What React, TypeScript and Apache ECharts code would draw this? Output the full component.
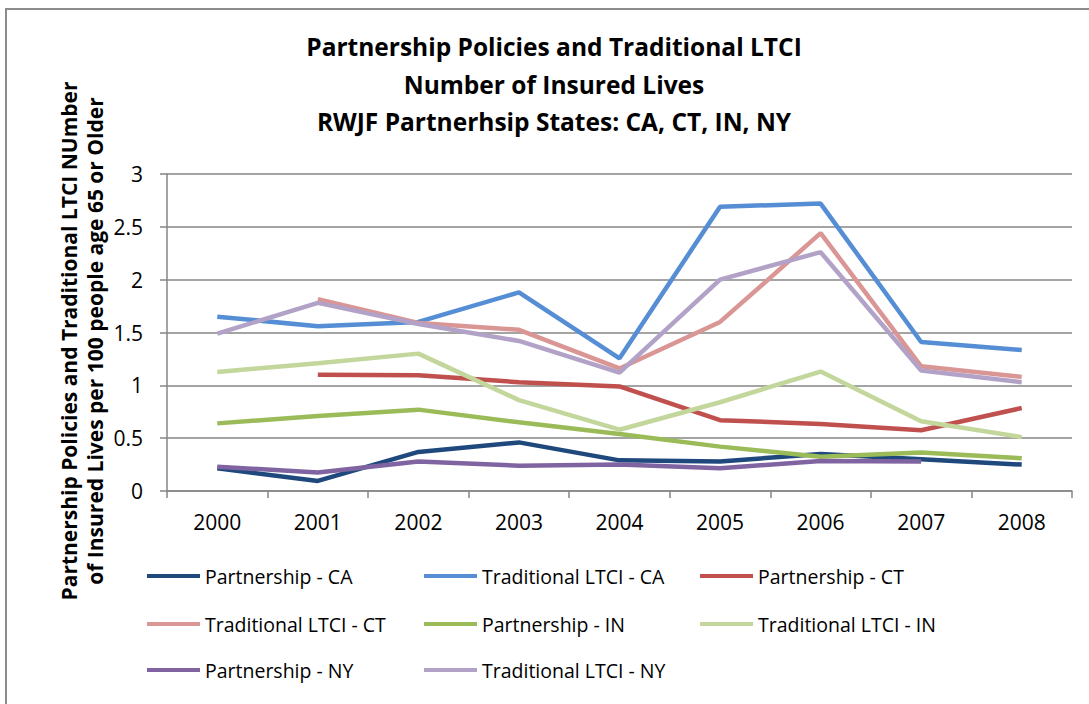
import React, { useEffect, useRef } from "react";
import * as echarts from "echarts";

const years = ["2000", "2001", "2002", "2003", "2004", "2005", "2006", "2007", "2008"];
const partnershipCA = [0.215, 0.095, 0.37, 0.46, 0.29, 0.28, 0.35, 0.3, 0.25];
const traditionalCA = [1.65, 1.56, 1.6, 1.88, 1.256, 2.69, 2.72, 1.41, 1.335];
const partnershipCT = [null, 1.1, 1.095, 1.03, 0.99, 0.67, 0.635, 0.575, 0.785];
const traditionalCT = [null, 1.815, 1.59, 1.525, 1.16, 1.6, 2.44, 1.18, 1.08];
const partnershipIN = [0.64, 0.71, 0.77, 0.65, 0.54, 0.42, 0.325, 0.365, 0.31];
const traditionalIN = [1.127, 1.21, 1.3, 0.86, 0.58, 0.84, 1.13, 0.66, 0.51];
const partnershipNY = [0.23, 0.175, 0.28, 0.24, 0.25, 0.215, 0.285, 0.28, null];
const traditionalNY = [1.49, 1.78, 1.58, 1.42, 1.12, 2.0, 2.26, 1.14, 1.03];

const seriesDefs = [
  { name: "Partnership - CA", data: partnershipCA, color: "#1F497D" },
  { name: "Traditional LTCI - CA", data: traditionalCA, color: "#558ED5" },
  { name: "Partnership - CT", data: partnershipCT, color: "#C0504D" },
  { name: "Traditional LTCI - CT", data: traditionalCT, color: "#D99694" },
  { name: "Partnership - IN", data: partnershipIN, color: "#9BBB59" },
  { name: "Traditional LTCI - IN", data: traditionalIN, color: "#C3D69B" },
  { name: "Partnership - NY", data: partnershipNY, color: "#8064A2" },
  { name: "Traditional LTCI - NY", data: traditionalNY, color: "#B3A2C7" },
];

const FONT = "'Open Sans', sans-serif";
const legendCols = [147, 424, 700];
const legendRows = [578, 626, 672];

export default function App() {
  const ref = useRef<HTMLDivElement>(null);
  useEffect(() => {
    const chart = echarts.init(ref.current!, undefined, { renderer: "svg" });
    const legends = seriesDefs.map((s, i) => ({
      data: [s.name],
      left: legendCols[i % 3],
      top: legendRows[Math.floor(i / 3)] - 12,
      icon: "rect",
      itemWidth: 53,
      itemHeight: 4,
      itemGap: 0,
      padding: 0,
      selectedMode: false,
      textStyle: { fontFamily: FONT, fontSize: 19.5, color: "#000", padding: [0, 0, 0, 0] },
    }));
    chart.setOption({
      animation: false,
      backgroundColor: "#fff",
      title: {
        text: "Partnership Policies and Traditional LTCI\nNumber of Insured Lives\nRWJF Partnerhsip States: CA, CT, IN, NY",
        left: 554,
        top: 28,
        padding: 0,
        textAlign: "center",
        textStyle: { fontFamily: FONT, fontWeight: "bold", fontSize: 24.5, lineHeight: 37.5, color: "#000" },
      },
      legend: legends,
      grid: { left: 167, right: 17, top: 174, bottom: 213, containLabel: false },
      xAxis: {
        type: "category",
        data: years,
        boundaryGap: true,
        axisLine: { show: true, lineStyle: { color: "#868686", width: 1.5 } },
        axisTick: { show: true, length: 7, lineStyle: { color: "#868686", width: 1.5 } },
        axisLabel: { fontFamily: FONT, fontSize: 21, color: "#000", margin: 20 },
      },
      yAxis: {
        type: "value",
        min: 0,
        max: 3,
        interval: 0.5,
        axisLine: { show: true, lineStyle: { color: "#868686", width: 1.5 } },
        axisTick: { show: true, length: 7, lineStyle: { color: "#868686", width: 1.5 } },
        axisLabel: { fontFamily: FONT, fontSize: 21, color: "#000", margin: 24 },
        splitLine: { show: true, lineStyle: { color: "#868686", width: 1.5 } },
      },
      graphic: [
        {
          type: "rect",
          shape: { x: 6, y: 9, width: 1200, height: 800 },
          style: { fill: "none", stroke: "#8c8c8c", lineWidth: 2 },
          silent: true,
        },
        {
          type: "text",
          x: 82,
          y: 341,
          rotation: Math.PI / 2,
          style: {
            text: "Partnership Policies and Traditional LTCI NUmber\nof Insured Lives per 100 people age 65 or Older",
            font: `bold 21px ${FONT}`,
            lineHeight: 26,
            align: "center",
            verticalAlign: "middle",
            fill: "#000",
          },
        },
      ],
      series: seriesDefs.map((s) => ({
        name: s.name,
        type: "line",
        data: s.data,
        connectNulls: false,
        symbol: "none",
        color: s.color,
        lineStyle: { width: 4.5, color: s.color },
        itemStyle: { color: s.color },
      })),
    });
    return () => chart.dispose();
  }, []);
  return (
    <div
      ref={ref}
      style={{ position: "fixed", left: 0, top: 0, width: 1089, height: 704 }}
    />
  );
}
